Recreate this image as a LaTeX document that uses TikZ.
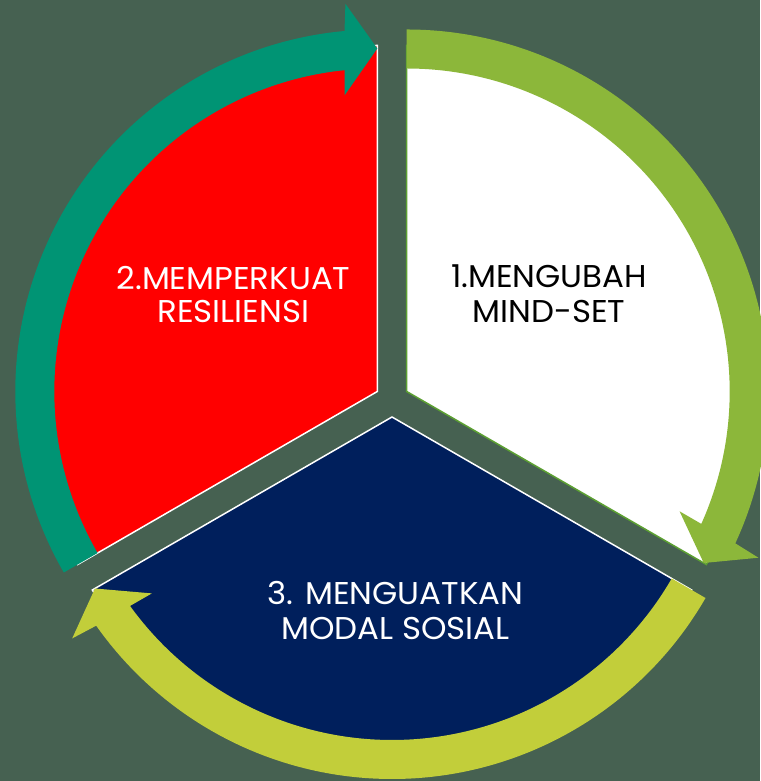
\documentclass[tikz,border=0pt]{standalone}
\usepackage{fontspec}
\setmainfont{Poppins}[FakeStretch=1.03]
\usetikzlibrary{calc}

\definecolor{bgslate}{RGB}{70,97,81}
\definecolor{arrowteal}{RGB}{0,148,116}
\definecolor{arrowleaf}{RGB}{140,183,58}
\definecolor{arrowlime}{RGB}{194,206,58}
\definecolor{sectornavy}{RGB}{0,31,92}
\definecolor{sectorred}{RGB}{255,0,0}
\definecolor{edgeleaf}{RGB}{92,160,50}

% curved band arrow around a sector: #1 centre, #2 start angle, #3 colour (runs clockwise)
\newcommand{\cyclearrow}[3]{%
  \fill[#3] ($(#1)+(#2:362pt)$)
    arc[start angle={#2}, end angle={#2-114.8}, radius=362pt]
    -- ($(#1)+({#2-115.3}:389pt)$)
    -- ($(#1)+({#2-120}:343pt)$)
    -- ($(#1)+({#2-113.7}:298pt)$)
    -- ($(#1)+({#2-114.2}:323pt)$)
    arc[start angle={#2-114.2}, end angle={#2}, radius=323pt]
    -- cycle;}

\tikzset{
  sector/.style={line width=1.5pt, line join=miter},
  label/.style={anchor=base, inner sep=0pt, font=\fontsize{31.5}{38}\selectfont}
}

\begin{document}
\begin{tikzpicture}[x=1pt,y=1pt]
  \fill[bgslate] (0,0) rectangle (760,781);
  \useasboundingbox (0,0) rectangle (760,781);

  % apexes of the three exploded sectors
  \coordinate (c1) at (406.7,389.5);
  \coordinate (c2) at (377.3,389.5);
  \coordinate (c3) at (392,364);

  % sectors
  \filldraw[sector, fill=white, draw=edgeleaf]
    (c1) -- ($(c1)+(90:346pt)$) arc[start angle=90, end angle=-30, radius=346pt] -- cycle;
  \filldraw[sector, fill=sectorred, draw=white]
    (c2) -- ($(c2)+(210:346pt)$) arc[start angle=210, end angle=90, radius=346pt] -- cycle;
  \filldraw[sector, fill=sectornavy, draw=white]
    (c3) -- ($(c3)+(330:346pt)$) arc[start angle=330, end angle=210, radius=346pt] -- cycle;

  % cycle arrows
  \cyclearrow{c1}{90}{arrowleaf}
  \cyclearrow{c2}{210}{arrowteal}
  \cyclearrow{c3}{330}{arrowlime}

  % labels
  \node[label, text=black] (l1a) at (549,493) {1.MENGUBAH};
  \node[label, text=black] (l1b) at (549,458) {MIND-SET};
  \node[label, text=white] (l2a) at (233.5,491) {2.MEMPERKUAT};
  \node[label, text=white] (l2b) at (233.5,458) {RESILIENSI};
  \node[label, text=white] (l3a) at (395.5,176) {3. MENGUATKAN};
  \node[label, text=white] (l3b) at (395.5,141) {MODAL SOSIAL};
\end{tikzpicture}
\end{document}
